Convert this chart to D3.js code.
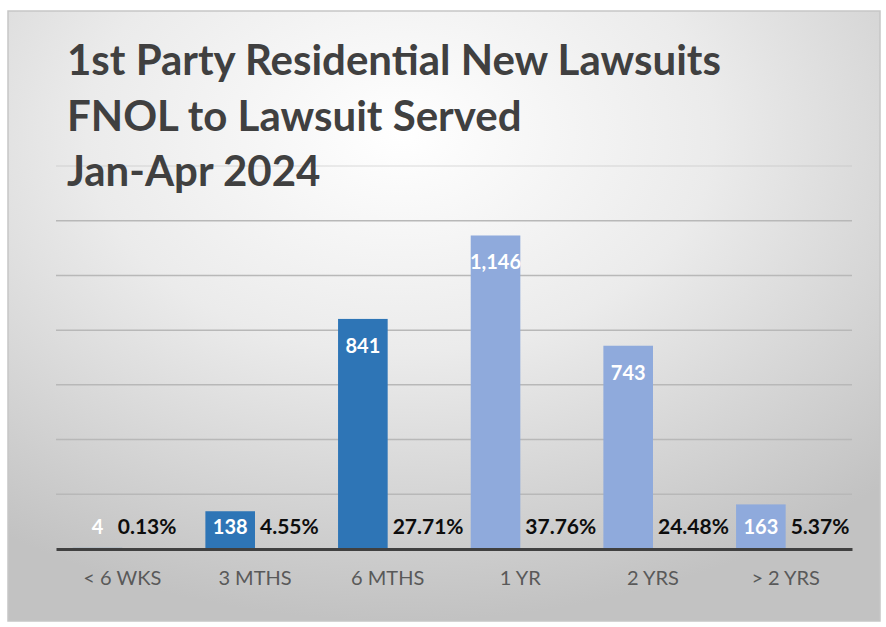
<!DOCTYPE html>
<html>
<head>
<meta charset="utf-8">
<script src="https://cdn.jsdelivr.net/npm/d3@7"></script>
<style>
  html, body { margin: 0; padding: 0; background: #fff; }
  svg { display: block; }
</style>
</head>
<body>
<div id="chart"></div>
<script>
// data
const titleLines = ["1st Party Residential New Lawsuits", "FNOL to Lawsuit Served", "Jan-Apr 2024"];
const categories = ["< 6 WKS", "3 MTHS", "6 MTHS", "1 YR", "2 YRS", "> 2 YRS"];
const counts = [4, 138, 841, 1146, 743, 163];
const percents = ["0.13%", "4.55%", "27.71%", "37.76%", "24.48%", "5.37%"];
const yTicks = [0, 200, 400, 600, 800, 1000, 1200, 1400];

const W = 886, H = 627;
const margin = {left: 56, right: 34, top: 166, bottom: 78};
const darkBlue = "#2E75B6", lightBlue = "#8FAADC";
const fontFam = "Lato, 'Open Sans', sans-serif";

const svg = d3.select("#chart").append("svg")
    .attr("width", W)
    .attr("height", H);

// background gradient
const defs = svg.append("defs");
const grad = defs.append("radialGradient")
    .attr("id", "bg")
    .attr("cx", "0.45").attr("cy", "0.2")
    .attr("r", "0.8");
grad.append("stop").attr("offset", "0").attr("stop-color", "#ffffff");
grad.append("stop").attr("offset", "0.45").attr("stop-color", "#ebebeb");
grad.append("stop").attr("offset", "1").attr("stop-color", "#c2c2c2");

svg.append("rect")
    .attr("x", 8).attr("y", 11)
    .attr("width", 872).attr("height", 610)
    .attr("fill", "url(#bg)")
    .attr("stroke", "#c6c6c6")
    .attr("stroke-width", 1.5);

const x = d3.scaleBand()
    .domain(categories)
    .range([margin.left, W - margin.right])
    .padding(0);

const y = d3.scaleLinear()
    .domain([0, 1400])
    .range([H - margin.bottom, margin.top]);

const barW = x.bandwidth() * 0.374;

// gridlines (the top one sits under the title and is faded)
svg.append("g")
    .selectAll("line")
    .data(yTicks.filter(d => d > 0))
    .join("line")
      .attr("x1", margin.left)
      .attr("x2", W - margin.right)
      .attr("y1", d => y(d))
      .attr("y2", d => y(d))
      .attr("stroke", "#b8b8b8")
      .attr("stroke-opacity", d => d === y.domain()[1] ? 0.35 : 1)
      .attr("stroke-width", 1.5);

// title
svg.append("g")
    .selectAll("text")
    .data(titleLines)
    .join("text")
      .attr("x", 67)
      .attr("y", (d, i) => 75 + i * 55.5)
      .attr("font-family", fontFam)
      .attr("font-weight", 700)
      .attr("font-size", 42)
      .attr("fill", "#404040")
      .text(d => d);

const rows = categories.map((c, i) => ({cat: c, n: counts[i], pct: percents[i]}));
const cx = d => x(d.cat) + x.bandwidth() / 2;

// bars
svg.append("g")
    .selectAll("rect")
    .data(rows)
    .join("rect")
      .attr("x", d => cx(d) - barW)
      .attr("y", d => y(d.n))
      .attr("width", barW)
      .attr("height", d => y(0) - y(d.n))
      .attr("fill", (d, i) => i < 3 ? darkBlue : lightBlue);

// count labels
svg.append("g")
    .selectAll("text")
    .data(rows)
    .join("text")
      .attr("x", d => cx(d) - barW / 2)
      .attr("y", d => Math.min(y(d.n) + 27, y(0) - 22))
      .attr("dy", "0.35em")
      .attr("text-anchor", "middle")
      .attr("font-family", fontFam)
      .attr("font-weight", 700)
      .attr("font-size", 20)
      .attr("fill", "#ffffff")
      .text(d => d3.format(",")(d.n));

// percent labels
svg.append("g")
    .selectAll("text")
    .data(rows)
    .join("text")
      .attr("x", d => (y(0) - y(d.n) < 2) ? cx(d) + barW / 2 : cx(d) + 5)
      .attr("y", y(0) - 22)
      .attr("dy", "0.35em")
      .attr("text-anchor", d => (y(0) - y(d.n) < 2) ? "middle" : "start")
      .attr("font-family", fontFam)
      .attr("font-weight", 700)
      .attr("font-size", 21)
      .attr("fill", "#0d0d0d")
      .text(d => d.pct);

// x axis
const xAxis = svg.append("g")
    .attr("transform", `translate(0,${y(0)})`)
    .call(d3.axisBottom(x).tickSize(0).tickPadding(22));
xAxis.select(".domain")
    .attr("stroke", "#404040")
    .attr("stroke-width", 3);
xAxis.selectAll("text")
    .attr("font-family", fontFam)
    .attr("font-size", 20)
    .attr("fill", "#595959");
</script>
</body>
</html>
